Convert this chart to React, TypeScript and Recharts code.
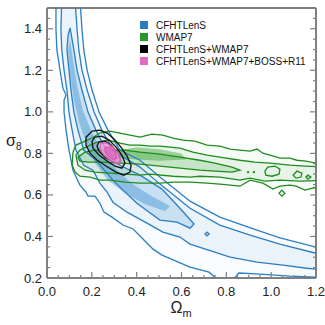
import React from "react";
import { ScatterChart, Scatter, XAxis, YAxis, Legend, Label } from "recharts";

type Pt = [number, number];

const font = "'Liberation Sans', Arial, Helvetica, sans-serif";
const frame = "#808080";

const xMinor = [0, 0.05, 0.1, 0.15, 0.2, 0.25, 0.3, 0.35, 0.4, 0.45, 0.5, 0.55, 0.6, 0.65, 0.7, 0.75, 0.8, 0.85, 0.9, 0.95, 1.0, 1.05, 1.1, 1.15, 1.2];
const yMinor = [0.2, 0.25, 0.3, 0.35, 0.4, 0.45, 0.5, 0.55, 0.6, 0.65, 0.7, 0.75, 0.8, 0.85, 0.9, 0.95, 1.0, 1.05, 1.1, 1.15, 1.2, 1.25, 1.3, 1.35, 1.4, 1.45, 1.5];
const majorStep = 0.2;

const legendLabels = ["CFHTLenS", "WMAP7", "CFHTLenS+WMAP7", "CFHTLenS+WMAP7+BOSS+R11"];
const legendColors = ["#2b7bbd", "#26962b", "#000000", "#e06cc0"];

// CFHTLenS contours (Omega_m, sigma_8)
const cfhtOuter: Pt[] = [
  [0.04, 1.54], [0.04, 1.399], [0.044, 1.298], [0.058, 1.201], [0.071, 1.114], [0.085, 1.081],
  [0.076, 1.057], [0.076, 0.999], [0.085, 0.912], [0.098, 0.816], [0.116, 0.719], [0.147, 0.647],
  [0.174, 0.613], [0.183, 0.594], [0.214, 0.594], [0.236, 0.56], [0.254, 0.517], [0.29, 0.493],
  [0.339, 0.455], [0.384, 0.436], [0.428, 0.388], [0.473, 0.339], [0.513, 0.31], [0.638, 0.252],
  [0.723, 0.228], [0.763, 0.19], [0.825, 0.185], [0.856, 0.224], [0.95, 0.219], [1.084, 0.209],
  [1.2, 0.204], [1.24, 0.204], [1.24, 0.349], [1.2, 0.349], [1.039, 0.393], [0.937, 0.431],
  [0.771, 0.493], [0.638, 0.57], [0.504, 0.686], [0.415, 0.767], [0.325, 0.816], [0.272, 0.912],
  [0.232, 0.999], [0.201, 1.105], [0.179, 1.201], [0.164, 1.298], [0.156, 1.399], [0.147, 1.54],
];
const cfht95: Pt[] = [
  [0.066, 1.54], [0.062, 1.399], [0.066, 1.298], [0.076, 1.201], [0.089, 1.105], [0.098, 0.999],
  [0.112, 0.912], [0.129, 0.816], [0.164, 0.743], [0.205, 0.719], [0.236, 0.657], [0.268, 0.613],
  [0.294, 0.565], [0.357, 0.517], [0.446, 0.464], [0.517, 0.421], [0.593, 0.397], [0.638, 0.363],
  [0.817, 0.3], [0.937, 0.276], [1.052, 0.262], [1.159, 0.247], [1.24, 0.238], [1.24, 0.31],
  [1.2, 0.319], [1.039, 0.363], [0.906, 0.407], [0.771, 0.455], [0.638, 0.536], [0.504, 0.652],
  [0.415, 0.734], [0.348, 0.777], [0.294, 0.816], [0.245, 0.912], [0.21, 0.999], [0.179, 1.105],
  [0.156, 1.201], [0.142, 1.298], [0.134, 1.399], [0.125, 1.54],
];
const cfht68: Pt[] = [
  [0.103, 1.404], [0.12, 1.298], [0.134, 1.201], [0.156, 1.105], [0.183, 0.999], [0.218, 0.912],
  [0.264, 0.816], [0.325, 0.743], [0.415, 0.695], [0.513, 0.628], [0.593, 0.536], [0.656, 0.46],
  [0.638, 0.44], [0.58, 0.469], [0.504, 0.479], [0.401, 0.56], [0.339, 0.623], [0.294, 0.671],
  [0.218, 0.767], [0.164, 0.816], [0.138, 0.912], [0.12, 0.999], [0.107, 1.105], [0.098, 1.201],
  [0.089, 1.298], [0.094, 1.37],
];
const cfhtCore: Pt[] = [
  [0.103, 1.346], [0.116, 1.249], [0.134, 1.129], [0.16, 1.008], [0.196, 0.912], [0.236, 0.825],
  [0.29, 0.743], [0.37, 0.661], [0.46, 0.599], [0.549, 0.546], [0.526, 0.522], [0.438, 0.555],
  [0.348, 0.608], [0.272, 0.671], [0.214, 0.753], [0.179, 0.84], [0.147, 0.936], [0.12, 1.057],
  [0.103, 1.177], [0.094, 1.298],
];
const cfhtIsland: Pt[] = [[0.705, 0.412], [0.714, 0.421], [0.723, 0.412], [0.714, 0.403]];

// WMAP7 contours
const wmapOuter: Pt[] = [
  [0.116, 0.806], [0.129, 0.84], [0.16, 0.854], [0.201, 0.874], [0.236, 0.898], [0.281, 0.907],
  [0.348, 0.893], [0.415, 0.878], [0.468, 0.893], [0.517, 0.888], [0.562, 0.874], [0.606, 0.864],
  [0.66, 0.859], [0.714, 0.84], [0.771, 0.835], [0.817, 0.821], [0.861, 0.816], [0.906, 0.811],
  [0.937, 0.821], [0.963, 0.801], [0.995, 0.792], [1.039, 0.777], [1.084, 0.777], [1.115, 0.767],
  [1.155, 0.763], [1.2, 0.753], [1.24, 0.748], [1.24, 0.633], [1.2, 0.637], [1.151, 0.623],
  [1.111, 0.642], [1.084, 0.647], [1.039, 0.642], [1.008, 0.628], [0.963, 0.657], [0.906, 0.671],
  [0.861, 0.642], [0.817, 0.647], [0.771, 0.652], [0.714, 0.657], [0.638, 0.662], [0.562, 0.662],
  [0.504, 0.657], [0.415, 0.657], [0.348, 0.662], [0.281, 0.671], [0.236, 0.671], [0.192, 0.686],
  [0.147, 0.69], [0.125, 0.71], [0.112, 0.743],
];
const wmap95: Pt[] = [
  [0.129, 0.792], [0.147, 0.816], [0.183, 0.835], [0.223, 0.854], [0.272, 0.864], [0.325, 0.849],
  [0.37, 0.84], [0.415, 0.84], [0.46, 0.835], [0.504, 0.835], [0.549, 0.83], [0.593, 0.825],
  [0.651, 0.806], [0.714, 0.792], [0.771, 0.782], [0.861, 0.767], [0.928, 0.758], [0.995, 0.753],
  [1.084, 0.743], [1.151, 0.739], [1.24, 0.734], [1.24, 0.671], [1.128, 0.666], [1.039, 0.671],
  [0.972, 0.666], [0.906, 0.681], [0.861, 0.671], [0.771, 0.686], [0.682, 0.69], [0.638, 0.686],
  [0.562, 0.69], [0.46, 0.7], [0.415, 0.695], [0.348, 0.7], [0.281, 0.705], [0.214, 0.71],
  [0.17, 0.719], [0.138, 0.743],
];
const wmap68: Pt[] = [
  [0.138, 0.782], [0.17, 0.806], [0.214, 0.816], [0.281, 0.816], [0.348, 0.816], [0.415, 0.806],
  [0.504, 0.796], [0.593, 0.782], [0.682, 0.767], [0.749, 0.753], [0.825, 0.734], [0.861, 0.719],
  [0.825, 0.71], [0.749, 0.715], [0.682, 0.719], [0.593, 0.729], [0.504, 0.739], [0.415, 0.748],
  [0.325, 0.753], [0.236, 0.758], [0.183, 0.758], [0.147, 0.763],
];
const wmapIslandA: Pt[] = [[0.972, 0.715], [0.985, 0.734], [1.017, 0.739], [1.039, 0.724], [1.035, 0.7], [1.004, 0.69], [0.976, 0.695]];
const wmapIslandB: Pt[] = [[1.098, 0.695], [1.115, 0.715], [1.137, 0.705], [1.133, 0.686], [1.111, 0.681]];
const wmapIslandC: Pt[] = [[1.155, 0.686], [1.164, 0.695], [1.177, 0.686], [1.164, 0.676]];
const wmapIslandD: Pt[] = [[1.035, 0.608], [1.048, 0.623], [1.061, 0.608], [1.048, 0.594]];
const wmapDots: Pt[] = [[0.897, 0.71], [0.923, 0.71]];
const wmapCore: Pt[] = [[0.3, 0.81], [0.4, 0.83], [0.5, 0.82], [0.6, 0.8], [0.62, 0.77], [0.5, 0.765], [0.4, 0.77], [0.3, 0.78]];

// CFHTLenS + WMAP7
const jointOuter: Pt[] = [
  [0.201, 0.907], [0.236, 0.912], [0.268, 0.898], [0.299, 0.869], [0.33, 0.83], [0.357, 0.787],
  [0.375, 0.743], [0.37, 0.71], [0.343, 0.695], [0.308, 0.71], [0.263, 0.739], [0.223, 0.768],
  [0.192, 0.801], [0.174, 0.84], [0.174, 0.878],
];
const joint95: Pt[] = [
  [0.214, 0.878], [0.245, 0.883], [0.277, 0.864], [0.308, 0.83], [0.334, 0.792], [0.348, 0.753],
  [0.334, 0.729], [0.303, 0.739], [0.268, 0.763], [0.232, 0.792], [0.205, 0.825], [0.201, 0.859],
];
const joint68: Pt[] = [
  [0.232, 0.854], [0.259, 0.859], [0.286, 0.84], [0.312, 0.806], [0.325, 0.772], [0.316, 0.753],
  [0.29, 0.763], [0.259, 0.782], [0.232, 0.811], [0.223, 0.835],
];

// CFHTLenS + WMAP7 + BOSS + R11
const allOuter: Pt[] = [
  [0.24, 0.849], [0.268, 0.849], [0.294, 0.83], [0.321, 0.796], [0.33, 0.763], [0.316, 0.748],
  [0.286, 0.763], [0.254, 0.792], [0.236, 0.821],
];
const allInner: Pt[] = [[0.259, 0.83], [0.281, 0.83], [0.303, 0.806], [0.312, 0.777], [0.299, 0.768], [0.277, 0.782], [0.259, 0.806]];

const toData = (pts: Pt[]) => pts.map(([x, y]) => ({ x, y }));
const noShape = () => <g />;
const isMajor = (v: number) => Math.abs(v / majorStep - Math.round(v / majorStep)) < 1e-6;
const tickLen = (v: number) => (isMajor(v) ? 6 : 3);

function fillArea(key: string, pts: Pt[], fill: string, opacity: number) {
  return (
    <Scatter
      key={key}
      data={toData(pts)}
      shape={noShape}
      line={{ fill, fillOpacity: opacity, stroke: "none" }}
      lineJointType="linearClosed"
      legendType="none"
      isAnimationActive={false}
    />
  );
}

function contour(key: string, pts: Pt[], stroke: string) {
  return (
    <Scatter
      key={key}
      data={toData(pts)}
      shape={noShape}
      line={{ stroke, strokeWidth: 1.3, fill: "none" }}
      lineJointType="linearClosed"
      legendType="none"
      isAnimationActive={false}
    />
  );
}

const blue = "#2a7fc4";
const green = "#1e8c1e";
const pink = "#d55bb5";

const BottomTick = (p: any) => {
  const v = p.payload.value;
  return (
    <g>
      <line x1={p.x} y1={p.y} x2={p.x} y2={p.y - tickLen(v)} stroke={frame} strokeWidth={1.2} />
      {isMajor(v) && (
        <text x={p.x} y={p.y + 18} textAnchor="middle" fontSize={13} fontFamily={font} fill="#222">
          {v.toFixed(1)}
        </text>
      )}
    </g>
  );
};
const TopTick = (p: any) => (
  <line x1={p.x} y1={p.y} x2={p.x} y2={p.y + tickLen(p.payload.value)} stroke={frame} strokeWidth={1.2} />
);
const LeftTick = (p: any) => {
  const v = p.payload.value;
  return (
    <g>
      <line x1={p.x} y1={p.y} x2={p.x + tickLen(v)} y2={p.y} stroke={frame} strokeWidth={1.2} />
      {isMajor(v) && (
        <text x={p.x - 5} y={p.y + 4.5} textAnchor="end" fontSize={13} fontFamily={font} fill="#222">
          {v.toFixed(1)}
        </text>
      )}
    </g>
  );
};
const RightTick = (p: any) => (
  <line x1={p.x} y1={p.y} x2={p.x - tickLen(p.payload.value)} y2={p.y} stroke={frame} strokeWidth={1.2} />
);

const OmegaLabel = () => (
  <text x={181} y={313} textAnchor="middle" fontSize={16} fontFamily={font} fill="#222">
    Ω<tspan fontSize={11} dy={4}>m</tspan>
  </text>
);

const SigmaLabel = () => (
  <text x={6} y={146} textAnchor="start" fontSize={16} fontFamily={font} fill="#222">
    σ<tspan fontSize={10} dy={4}>8</tspan>
  </text>
);

const renderLegend = () => (
  <div style={{ fontFamily: font, fontSize: 10, color: "#111" }}>
    {legendLabels.map((l, i) => (
      <div key={l} style={{ display: "flex", alignItems: "center", height: 12 }}>
        <span style={{ display: "inline-block", width: 8, height: 8, background: legendColors[i], marginRight: 8 }} />
        {l}
      </div>
    ))}
  </div>
);

const axisLine = { stroke: frame, strokeWidth: 2 };

export default function App() {
  return (
    <div style={{ position: "absolute", left: 0, top: 0 }}>
      <ScatterChart width={325} height={325} margin={{ top: 0, right: 0, bottom: 0, left: 0 }}>
        <XAxis
          type="number"
          dataKey="x"
          domain={[0, 1.2]}
          ticks={xMinor}
          allowDataOverflow
          interval={0}
          height={47}
          tickLine={false}
          tickSize={0}
          tickMargin={0}
          axisLine={axisLine}
          tick={BottomTick}
        >
          <Label content={OmegaLabel} />
        </XAxis>
        <XAxis
          xAxisId="top"
          orientation="top"
          type="number"
          domain={[0, 1.2]}
          ticks={xMinor}
          allowDataOverflow
          interval={0}
          height={8}
          tickLine={false}
          tickSize={0}
          tickMargin={0}
          axisLine={axisLine}
          tick={TopTick}
        />
        <YAxis
          type="number"
          dataKey="y"
          domain={[0.2, 1.5]}
          ticks={yMinor}
          allowDataOverflow
          interval={0}
          width={47}
          tickLine={false}
          tickSize={0}
          tickMargin={0}
          axisLine={axisLine}
          tick={LeftTick}
        >
          <Label content={SigmaLabel} />
        </YAxis>
        <YAxis
          yAxisId="right"
          orientation="right"
          type="number"
          domain={[0.2, 1.5]}
          ticks={yMinor}
          allowDataOverflow
          interval={0}
          width={9}
          tickLine={false}
          tickSize={0}
          tickMargin={0}
          axisLine={axisLine}
          tick={RightTick}
        />

        {fillArea("cfhtOuterFill", cfhtOuter, "#3a8fd0", 0.03)}
        {fillArea("cfht95Fill", cfht95, "#3a8fd0", 0.08)}
        {fillArea("cfht68Fill", cfht68, "#3a8fd0", 0.18)}
        {fillArea("cfhtCoreFill", cfhtCore, "#3a8fd0", 0.42)}
        {fillArea("wmapOuterFill", wmapOuter, "#2e9e2e", 0.03)}
        {fillArea("wmap95Fill", wmap95, "#2e9e2e", 0.08)}
        {fillArea("wmap68Fill", wmap68, "#2e9e2e", 0.18)}
        {fillArea("wmapCoreFill", wmapCore, "#2e9e2e", 0.42)}

        {contour("cfhtOuter", cfhtOuter, blue)}
        {contour("cfht95", cfht95, blue)}
        {contour("cfht68", cfht68, blue)}
        {contour("cfhtIsland", cfhtIsland, blue)}
        {contour("wmapOuter", wmapOuter, green)}
        {contour("wmap95", wmap95, green)}
        {contour("wmap68", wmap68, green)}
        {contour("wmapIslandA", wmapIslandA, green)}
        {contour("wmapIslandB", wmapIslandB, green)}
        {contour("wmapIslandC", wmapIslandC, green)}
        {contour("wmapIslandD", wmapIslandD, green)}
        <Scatter
          data={toData(wmapDots)}
          shape={(p: any) => <circle cx={p.cx} cy={p.cy} r={1.2} fill={green} />}
          legendType="none"
          isAnimationActive={false}
        />
        {contour("jointOuter", jointOuter, "#111")}
        {contour("joint95", joint95, "#111")}
        {contour("joint68", joint68, "#111")}
        {fillArea("allOuterFill", allOuter, "#ee9bd8", 0.8)}
        {fillArea("allInnerFill", allInner, "#d966bd", 0.8)}
        {contour("allOuter", allOuter, pink)}
        {contour("allInner", allInner, pink)}

        <Legend
          content={renderLegend}
          layout="horizontal"
          verticalAlign="middle"
          align="center"
          wrapperStyle={{ left: 140, top: 19, width: 180, height: 50 }}
        />
      </ScatterChart>
    </div>
  );
}
